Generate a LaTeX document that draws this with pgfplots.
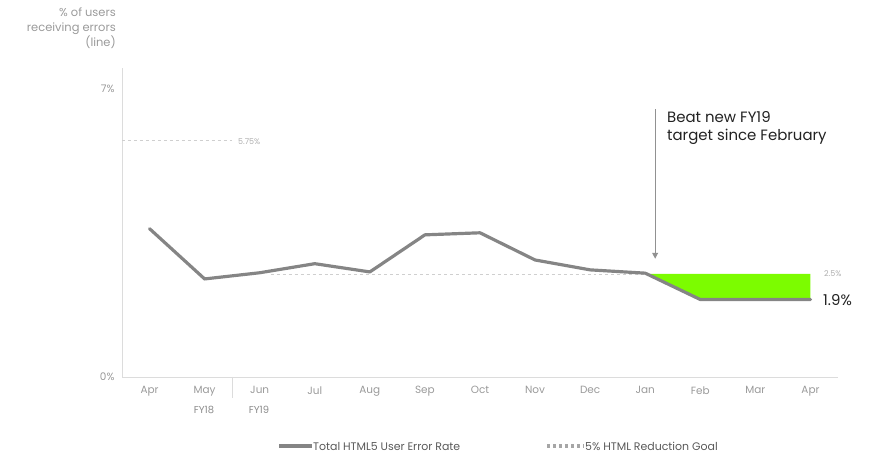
\documentclass[border=0pt]{standalone}
\usepackage{fontspec}
\setmainfont{Poppins}
\usepackage{pgfplots}
\pgfplotsset{compat=1.18}
\usetikzlibrary{arrows.meta}
\definecolor{linegray}{HTML}{858585}
\definecolor{lblgray}{HTML}{9A9A9A}
\definecolor{axgray}{HTML}{DCDCDC}
\definecolor{dashgray}{HTML}{CFCFCF}
\definecolor{fillgreen}{HTML}{7CFC00}
\definecolor{txtdark}{HTML}{222222}
\begin{document}
\begin{tikzpicture}[x=1bp,y=1bp]
\path[use as bounding box] (0,0) rectangle (874,454);
\begin{axis}[
  at={(122bp,77bp)}, anchor=south west,
  scale only axis, width=716bp, height=309bp,
  xmin=-0.5, xmax=12.5, ymin=0, ymax=7.5,
  axis x line=bottom, axis y line=left,
  axis line style={draw=axgray, line width=0.8pt, -},
  xtick={0,...,12},
  xticklabels={Apr,May,Jun,Jul,Aug,Sep,Oct,Nov,Dec,Jan,Feb,Mar,Apr},
  ytick={0,7}, yticklabels={0\%,7\%},
  major tick length=0,
  tick label style={font=\fontsize{10.5}{13}\selectfont, text=lblgray},
  xticklabel style={yshift=-6bp},
  yticklabel style={xshift=-4bp},
  clip=false,
]
\addplot[dashgray, dashed, line width=0.8pt] coordinates {(-0.5,5.75)(1.5,5.75)};
\addplot[dashgray, dashed, line width=0.8pt] coordinates {(2.2,2.5)(12,2.5)};
\addplot[fill=fillgreen, draw=none] coordinates {(9,2.52)(10,1.88)(11,1.88)(12,1.88)(12,2.5)(9,2.5)} -- cycle;
\addplot[linegray, line width=3.2pt, line join=round, line cap=round] coordinates {
(0,3.6)(1,2.38)(2,2.53)(3,2.75)(4,2.55)(5,3.45)(6,3.5)(7,2.84)(8,2.6)(9,2.52)(10,1.88)(11,1.88)(12,1.88)};
\draw[linegray!90, line width=0.9pt, -{Triangle[length=6pt,width=6pt]}] (axis cs:9.18,6.5) -- (axis cs:9.18,2.87);
\end{axis}
% annotations
\node[anchor=north west, align=left, font=\fontsize{15}{18}\selectfont, text=txtdark, inner sep=0] at (667,454-111) {Beat new FY19\\target since February};
\node[anchor=west, font=\fontsize{15}{18}\selectfont, text=txtdark, inner sep=0] at (823,454-300) {1.9\%};
\node[anchor=west, font=\fontsize{8}{10}\selectfont, text=lblgray!80, inner sep=0] at (824,454-274) {2.5\%};
\node[anchor=west, font=\fontsize{8}{10}\selectfont, text=lblgray!80, inner sep=0] at (238,454-142) {5.75\%};
\node[anchor=north east, align=right, font=\fontsize{11.5}{15}\selectfont, text=lblgray, inner sep=0] at (116,454-8) {\% of users\\receiving errors\\(line)};
\node[font=\fontsize{10}{12}\selectfont, text=lblgray!90!black] at (204,454-410) {FY18};
\node[font=\fontsize{10}{12}\selectfont, text=lblgray!90!black] at (259,454-410) {FY19};
\draw[axgray, line width=0.8pt] (232,77) -- (232,56);
% legend
\draw[linegray, line width=3.2pt] (279,8) -- (312,8);
\node[anchor=west, font=\fontsize{11}{13}\selectfont, text=black!65, inner sep=0] at (313,8) {Total HTML5 User Error Rate};
\draw[black!35, line width=3.5pt, dash pattern=on 3.5pt off 2.5pt] (547,8) -- (584,8);
\node[anchor=west, font=\fontsize{11}{13}\selectfont, text=black!65, inner sep=0] at (585,8) {5\% HTML Reduction Goal};
\end{tikzpicture}
\end{document}
